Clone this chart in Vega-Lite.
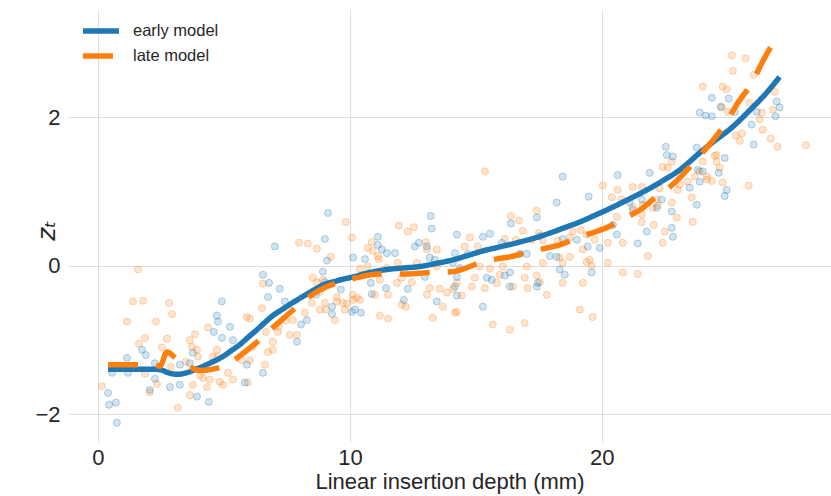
{
"$schema": "https://vega.github.io/schema/vega-lite/v6.json",
"width": 763, "height": 432,
"autosize": {"type": "none"},
"padding": {"left": 68, "top": 10, "right": 0, "bottom": 54},
"background": "white",
"config": {"view": {"stroke": null}, "font": "Liberation Sans"},
"datasets": {
"pts": [
{"series":"late","x":1.59,"y":-0.05},{"series":"late","x":1.39,"y":-0.48},{"series":"late","x":1.79,"y":-0.47},{"series":"late","x":2.82,"y":-0.50},{"series":"late","x":2.94,"y":-0.65},{"series":"late","x":1.15,"y":-0.75},{"series":"late","x":2.30,"y":-0.75},{"series":"late","x":1.87,"y":-0.97},{"series":"late","x":2.74,"y":-0.98},{"series":"late","x":1.63,"y":-1.05},{"series":"late","x":2.54,"y":-1.10},{"series":"late","x":0.16,"y":-1.62},{"series":"late","x":2.06,"y":-1.70},{"series":"late","x":2.34,"y":-1.59},{"series":"late","x":3.17,"y":-1.91},{"series":"late","x":3.65,"y":-1.74},{"series":"late","x":1.87,"y":-1.45},{"series":"late","x":3.77,"y":-1.60},{"series":"late","x":3.49,"y":-1.29},{"series":"late","x":2.90,"y":-1.36},{"series":"late","x":4.37,"y":-0.83},{"series":"late","x":3.85,"y":-0.92},{"series":"late","x":3.65,"y":-1.00},{"series":"late","x":3.93,"y":-1.13},{"series":"late","x":4.56,"y":-1.22},{"series":"late","x":4.72,"y":-1.13},{"series":"late","x":4.33,"y":-1.63},{"series":"late","x":4.44,"y":-1.53},{"series":"late","x":4.05,"y":-1.47},{"series":"late","x":4.84,"y":-1.56},{"series":"late","x":4.96,"y":-1.60},{"series":"late","x":5.36,"y":-1.53},{"series":"late","x":5.16,"y":-1.44},{"series":"late","x":5.71,"y":-1.27},{"series":"late","x":5.91,"y":-0.69},{"series":"late","x":6.03,"y":-0.71},{"series":"late","x":6.51,"y":-0.57},{"series":"late","x":6.55,"y":-0.24},{"series":"late","x":6.63,"y":-1.33},{"series":"late","x":6.03,"y":-1.27},{"series":"late","x":6.15,"y":-1.09},{"series":"late","x":6.94,"y":-1.02},{"series":"late","x":6.94,"y":-1.13},{"series":"late","x":7.14,"y":-0.89},{"series":"late","x":7.74,"y":-0.73},{"series":"late","x":7.62,"y":-0.93},{"series":"late","x":7.90,"y":-0.93},{"series":"late","x":7.98,"y":0.31},{"series":"late","x":8.33,"y":0.30},{"series":"late","x":8.69,"y":0.23},{"series":"late","x":9.25,"y":0.12},{"series":"late","x":8.53,"y":-0.16},{"series":"late","x":8.81,"y":-0.35},{"series":"late","x":9.01,"y":-0.50},{"series":"late","x":9.48,"y":-0.48},{"series":"late","x":9.72,"y":-0.50},{"series":"late","x":8.81,"y":-0.59},{"series":"late","x":9.40,"y":-0.73},{"series":"late","x":9.80,"y":-0.59},{"series":"late","x":10.12,"y":-0.46},{"series":"late","x":5.95,"y":-1.57},{"series":"late","x":4.17,"y":-1.51},{"series":"late","x":3.73,"y":-1.09},{"series":"late","x":3.97,"y":-1.22},{"series":"late","x":4.76,"y":-1.22},{"series":"late","x":6.75,"y":-1.16},{"series":"late","x":7.18,"y":-0.82},{"series":"late","x":7.46,"y":-0.74},{"series":"late","x":6.67,"y":-0.89},{"series":"late","x":8.21,"y":-0.63},{"series":"late","x":8.49,"y":-0.50},{"series":"late","x":8.69,"y":-0.22},{"series":"late","x":9.05,"y":-0.59},{"series":"late","x":8.93,"y":-0.19},{"series":"late","x":9.84,"y":0.59},{"series":"late","x":11.94,"y":0.54},{"series":"late","x":12.30,"y":0.46},{"series":"late","x":12.54,"y":0.52},{"series":"late","x":10.08,"y":0.38},{"series":"late","x":10.87,"y":0.32},{"series":"late","x":10.71,"y":0.24},{"series":"late","x":10.91,"y":0.20},{"series":"late","x":11.11,"y":0.13},{"series":"late","x":11.15,"y":0.09},{"series":"late","x":11.90,"y":0.04},{"series":"late","x":12.66,"y":0.04},{"series":"late","x":13.02,"y":0.32},{"series":"late","x":13.06,"y":0.22},{"series":"late","x":13.45,"y":0.22},{"series":"late","x":13.45,"y":-0.01},{"series":"late","x":10.40,"y":-0.04},{"series":"late","x":10.71,"y":-0.01},{"series":"late","x":11.47,"y":-0.03},{"series":"late","x":11.87,"y":-0.23},{"series":"late","x":12.06,"y":-0.16},{"series":"late","x":12.46,"y":-0.22},{"series":"late","x":13.17,"y":-0.30},{"series":"late","x":13.57,"y":-0.31},{"series":"late","x":13.06,"y":-0.39},{"series":"late","x":13.85,"y":-0.36},{"series":"late","x":14.09,"y":-0.31},{"series":"late","x":10.12,"y":-0.39},{"series":"late","x":9.48,"y":-0.42},{"series":"late","x":9.88,"y":-0.51},{"series":"late","x":10.28,"y":-0.43},{"series":"late","x":11.51,"y":-0.39},{"series":"late","x":12.06,"y":-0.52},{"series":"late","x":12.22,"y":-0.55},{"series":"late","x":11.19,"y":-0.67},{"series":"late","x":11.51,"y":-0.71},{"series":"late","x":13.29,"y":-0.70},{"series":"late","x":13.69,"y":-0.55},{"series":"late","x":14.17,"y":-0.63},{"series":"late","x":10.40,"y":-0.46},{"series":"late","x":10.99,"y":-0.39},{"series":"late","x":11.19,"y":-0.19},{"series":"late","x":15.36,"y":1.27},{"series":"late","x":17.42,"y":0.74},{"series":"late","x":16.39,"y":0.67},{"series":"late","x":16.71,"y":0.61},{"series":"late","x":14.76,"y":0.38},{"series":"late","x":14.56,"y":0.26},{"series":"late","x":15.08,"y":0.26},{"series":"late","x":16.87,"y":0.47},{"series":"late","x":17.50,"y":0.44},{"series":"late","x":17.66,"y":0.34},{"series":"late","x":18.73,"y":0.38},{"series":"late","x":18.85,"y":0.46},{"series":"late","x":19.17,"y":0.48},{"series":"late","x":16.15,"y":0.36},{"series":"late","x":16.59,"y":0.35},{"series":"late","x":17.22,"y":0.35},{"series":"late","x":18.25,"y":0.34},{"series":"late","x":17.02,"y":-0.01},{"series":"late","x":17.66,"y":0.04},{"series":"late","x":18.45,"y":0.04},{"series":"late","x":18.33,"y":0.11},{"series":"late","x":18.73,"y":0.12},{"series":"late","x":19.25,"y":0.22},{"series":"late","x":19.52,"y":0.08},{"series":"late","x":15.16,"y":-0.01},{"series":"late","x":15.56,"y":-0.04},{"series":"late","x":16.07,"y":-0.01},{"series":"late","x":15.95,"y":-0.12},{"series":"late","x":14.96,"y":-0.16},{"series":"late","x":16.94,"y":-0.16},{"series":"late","x":17.42,"y":-0.13},{"series":"late","x":17.54,"y":-0.22},{"series":"late","x":18.45,"y":-0.23},{"series":"late","x":14.25,"y":-0.23},{"series":"late","x":14.84,"y":-0.28},{"series":"late","x":15.36,"y":-0.30},{"series":"late","x":15.83,"y":-0.23},{"series":"late","x":16.47,"y":-0.28},{"series":"late","x":17.06,"y":-0.30},{"series":"late","x":17.82,"y":-0.39},{"series":"late","x":14.44,"y":-0.40},{"series":"late","x":19.25,"y":-0.23},{"series":"late","x":19.13,"y":-0.59},{"series":"late","x":14.25,"y":-0.62},{"series":"late","x":15.67,"y":-0.79},{"series":"late","x":16.35,"y":-0.86},{"series":"late","x":16.94,"y":-0.77},{"series":"late","x":24.56,"y":1.49},{"series":"late","x":24.56,"y":1.40},{"series":"late","x":24.01,"y":1.40},{"series":"late","x":22.42,"y":1.33},{"series":"late","x":22.62,"y":1.32},{"series":"late","x":22.78,"y":1.40},{"series":"late","x":23.69,"y":1.20},{"series":"late","x":23.89,"y":1.27},{"series":"late","x":24.17,"y":1.16},{"series":"late","x":23.41,"y":1.13},{"series":"late","x":23.10,"y":1.09},{"series":"late","x":23.02,"y":1.02},{"series":"late","x":22.30,"y":1.04},{"series":"late","x":21.23,"y":1.06},{"series":"late","x":21.59,"y":1.06},{"series":"late","x":20.63,"y":1.02},{"series":"late","x":20.04,"y":1.08},{"series":"late","x":20.40,"y":0.92},{"series":"late","x":20.79,"y":0.89},{"series":"late","x":22.18,"y":0.89},{"series":"late","x":22.22,"y":0.81},{"series":"late","x":22.78,"y":0.85},{"series":"late","x":23.57,"y":0.92},{"series":"late","x":23.61,"y":0.59},{"series":"late","x":22.98,"y":0.65},{"series":"late","x":22.02,"y":0.78},{"series":"late","x":21.23,"y":0.79},{"series":"late","x":21.63,"y":0.82},{"series":"late","x":21.59,"y":0.69},{"series":"late","x":21.59,"y":0.59},{"series":"late","x":22.06,"y":0.55},{"series":"late","x":22.50,"y":0.46},{"series":"late","x":22.42,"y":0.31},{"series":"late","x":21.83,"y":0.13},{"series":"late","x":20.83,"y":0.31},{"series":"late","x":20.24,"y":0.31},{"series":"late","x":19.72,"y":0.35},{"series":"late","x":19.40,"y":0.42},{"series":"late","x":19.40,"y":0.05},{"series":"late","x":19.60,"y":0.00},{"series":"late","x":20.24,"y":0.04},{"series":"late","x":20.83,"y":-0.09},{"series":"late","x":21.43,"y":-0.11},{"series":"late","x":19.64,"y":-0.69},{"series":"late","x":20.60,"y":0.66},{"series":"late","x":25.16,"y":2.83},{"series":"late","x":25.71,"y":2.79},{"series":"late","x":25.20,"y":2.62},{"series":"late","x":26.03,"y":2.57},{"series":"late","x":26.87,"y":2.34},{"series":"late","x":24.80,"y":2.41},{"series":"late","x":24.96,"y":2.37},{"series":"late","x":24.76,"y":2.13},{"series":"late","x":25.00,"y":2.07},{"series":"late","x":25.87,"y":2.19},{"series":"late","x":26.35,"y":2.06},{"series":"late","x":26.79,"y":2.10},{"series":"late","x":26.27,"y":1.97},{"series":"late","x":26.39,"y":1.83},{"series":"late","x":25.32,"y":1.75},{"series":"late","x":25.56,"y":1.78},{"series":"late","x":25.48,"y":1.68},{"series":"late","x":26.71,"y":1.71},{"series":"late","x":26.98,"y":1.60},{"series":"late","x":28.10,"y":1.62},{"series":"late","x":24.48,"y":1.48},{"series":"late","x":24.68,"y":1.32},{"series":"late","x":24.17,"y":1.20},{"series":"late","x":24.37,"y":1.14},{"series":"late","x":24.80,"y":1.12},{"series":"late","x":25.83,"y":1.08},{"series":"late","x":24.01,"y":2.41},
{"series":"early","x":0.40,"y":-1.71},{"series":"early","x":0.44,"y":-1.87},{"series":"early","x":0.71,"y":-1.84},{"series":"early","x":0.75,"y":-2.11},{"series":"early","x":1.15,"y":-1.24},{"series":"early","x":1.90,"y":-1.20},{"series":"early","x":1.75,"y":-1.13},{"series":"early","x":0.56,"y":-1.44},{"series":"early","x":1.19,"y":-1.44},{"series":"early","x":2.06,"y":-1.67},{"series":"early","x":2.26,"y":-1.52},{"series":"early","x":2.86,"y":-1.63},{"series":"early","x":3.25,"y":-1.60},{"series":"early","x":3.93,"y":-1.76},{"series":"early","x":4.40,"y":-1.83},{"series":"early","x":3.25,"y":-1.33},{"series":"early","x":3.77,"y":-1.17},{"series":"early","x":2.26,"y":-1.31},{"series":"early","x":4.92,"y":-0.48},{"series":"early","x":4.72,"y":-0.67},{"series":"early","x":4.76,"y":-0.75},{"series":"early","x":5.24,"y":-0.82},{"series":"early","x":5.36,"y":-1.00},{"series":"early","x":5.91,"y":-1.33},{"series":"early","x":5.83,"y":-1.57},{"series":"early","x":6.55,"y":-1.44},{"series":"early","x":7.02,"y":0.26},{"series":"early","x":6.55,"y":-0.12},{"series":"early","x":6.75,"y":-0.42},{"series":"early","x":6.79,"y":-0.23},{"series":"early","x":7.22,"y":-0.31},{"series":"early","x":7.42,"y":-0.48},{"series":"early","x":7.90,"y":-1.02},{"series":"early","x":8.29,"y":-0.73},{"series":"early","x":8.06,"y":-0.79},{"series":"early","x":8.93,"y":-0.08},{"series":"early","x":9.09,"y":0.07},{"series":"early","x":9.01,"y":-0.22},{"series":"early","x":9.64,"y":-0.32},{"series":"early","x":10.12,"y":0.11},{"series":"early","x":10.20,"y":-0.59},{"series":"early","x":9.01,"y":0.36},{"series":"early","x":9.13,"y":0.71},{"series":"early","x":4.60,"y":-0.89},{"series":"early","x":4.92,"y":-0.97},{"series":"early","x":8.65,"y":-0.39},{"series":"early","x":3.65,"y":-1.31},{"series":"early","x":13.21,"y":0.67},{"series":"early","x":13.25,"y":0.50},{"series":"early","x":10.60,"y":0.09},{"series":"early","x":11.11,"y":0.39},{"series":"early","x":11.11,"y":0.28},{"series":"early","x":11.27,"y":0.22},{"series":"early","x":11.47,"y":0.17},{"series":"early","x":11.79,"y":0.17},{"series":"early","x":12.58,"y":0.26},{"series":"early","x":12.74,"y":0.31},{"series":"early","x":13.06,"y":0.26},{"series":"early","x":13.17,"y":0.11},{"series":"early","x":13.37,"y":0.08},{"series":"early","x":14.25,"y":0.42},{"series":"early","x":14.17,"y":0.17},{"series":"early","x":12.98,"y":-0.15},{"series":"early","x":10.83,"y":-0.23},{"series":"early","x":10.87,"y":-0.38},{"series":"early","x":12.30,"y":-0.31},{"series":"early","x":12.14,"y":-0.46},{"series":"early","x":13.45,"y":-0.48},{"series":"early","x":14.25,"y":-0.40},{"series":"early","x":9.29,"y":-0.55},{"series":"early","x":9.29,"y":-0.65},{"series":"early","x":10.08,"y":-0.62},{"series":"early","x":10.44,"y":-0.63},{"series":"early","x":11.43,"y":-0.30},{"series":"early","x":18.45,"y":1.20},{"series":"early","x":18.21,"y":0.85},{"series":"early","x":16.39,"y":0.57},{"series":"early","x":17.42,"y":0.65},{"series":"early","x":15.56,"y":0.43},{"series":"early","x":15.28,"y":0.39},{"series":"early","x":16.03,"y":0.31},{"series":"early","x":17.54,"y":0.40},{"series":"early","x":18.45,"y":0.36},{"series":"early","x":19.01,"y":0.35},{"series":"early","x":19.44,"y":0.26},{"series":"early","x":19.48,"y":0.93},{"series":"early","x":14.68,"y":0.16},{"series":"early","x":16.75,"y":0.16},{"series":"early","x":17.02,"y":0.16},{"series":"early","x":17.94,"y":0.13},{"series":"early","x":18.21,"y":0.12},{"series":"early","x":14.09,"y":0.04},{"series":"early","x":14.37,"y":-0.03},{"series":"early","x":14.25,"y":-0.15},{"series":"early","x":15.44,"y":-0.16},{"series":"early","x":15.63,"y":-0.19},{"series":"early","x":16.15,"y":-0.13},{"series":"early","x":16.35,"y":-0.09},{"series":"early","x":16.35,"y":-0.28},{"series":"early","x":17.46,"y":-0.23},{"series":"early","x":17.42,"y":-0.28},{"series":"early","x":18.33,"y":-0.05},{"series":"early","x":18.53,"y":-0.12},{"series":"early","x":15.28,"y":-0.55},{"series":"early","x":14.17,"y":-0.28},{"series":"early","x":23.89,"y":2.06},{"series":"early","x":24.13,"y":2.02},{"series":"early","x":24.37,"y":2.01},{"series":"early","x":22.54,"y":1.60},{"series":"early","x":22.58,"y":1.49},{"series":"early","x":22.82,"y":1.47},{"series":"early","x":23.81,"y":1.29},{"series":"early","x":23.89,"y":1.13},{"series":"early","x":23.49,"y":1.05},{"series":"early","x":23.77,"y":0.82},{"series":"early","x":21.90,"y":1.25},{"series":"early","x":20.63,"y":1.22},{"series":"early","x":21.11,"y":0.85},{"series":"early","x":21.59,"y":0.89},{"series":"early","x":22.38,"y":0.89},{"series":"early","x":22.18,"y":0.78},{"series":"early","x":21.23,"y":0.75},{"series":"early","x":22.78,"y":0.73},{"series":"early","x":22.78,"y":0.51},{"series":"early","x":22.82,"y":0.39},{"series":"early","x":21.79,"y":0.46},{"series":"early","x":20.60,"y":0.42},{"series":"early","x":19.92,"y":0.24},{"series":"early","x":21.43,"y":0.30},{"series":"early","x":19.60,"y":-0.09},{"series":"early","x":20.44,"y":0.55},{"series":"early","x":24.37,"y":2.26},{"series":"early","x":25.04,"y":2.25},{"series":"early","x":24.72,"y":2.14},{"series":"early","x":25.28,"y":2.07},{"series":"early","x":26.94,"y":2.21},{"series":"early","x":27.06,"y":2.13},{"series":"early","x":26.90,"y":2.01},{"series":"early","x":26.15,"y":2.07},{"series":"early","x":25.95,"y":1.90},{"series":"early","x":26.03,"y":1.63},{"series":"early","x":24.88,"y":1.45},{"series":"early","x":24.64,"y":1.25},{"series":"early","x":24.96,"y":1.02},{"series":"early","x":24.88,"y":0.94},{"series":"early","x":24.01,"y":1.27},{"series":"early","x":23.77,"y":1.59}
],
"lines": [
{"model":"early model","x":0.4,"y":-1.39},{"model":"early model","x":1.2,"y":-1.39},{"model":"early model","x":2.2,"y":-1.39},{"model":"early model","x":2.5,"y":-1.40},{"model":"early model","x":2.8,"y":-1.44},{"model":"early model","x":3.15,"y":-1.46},{"model":"early model","x":3.5,"y":-1.44},{"model":"early model","x":3.97,"y":-1.38},{"model":"early model","x":4.5,"y":-1.30},{"model":"early model","x":4.96,"y":-1.22},{"model":"early model","x":5.3,"y":-1.14},{"model":"early model","x":5.63,"y":-1.06},{"model":"early model","x":6.0,"y":-0.95},{"model":"early model","x":6.31,"y":-0.86},{"model":"early model","x":6.6,"y":-0.77},{"model":"early model","x":6.94,"y":-0.67},{"model":"early model","x":7.3,"y":-0.59},{"model":"early model","x":7.62,"y":-0.52},{"model":"early model","x":7.95,"y":-0.45},{"model":"early model","x":8.25,"y":-0.39},{"model":"early model","x":8.6,"y":-0.32},{"model":"early model","x":8.93,"y":-0.26},{"model":"early model","x":9.5,"y":-0.20},{"model":"early model","x":10.12,"y":-0.15},{"model":"early model","x":10.8,"y":-0.09},{"model":"early model","x":11.47,"y":-0.05},{"model":"early model","x":12.1,"y":-0.03},{"model":"early model","x":12.78,"y":-0.01},{"model":"early model","x":13.4,"y":0.03},{"model":"early model","x":14.09,"y":0.08},{"model":"early model","x":14.7,"y":0.14},{"model":"early model","x":15.28,"y":0.20},{"model":"early model","x":15.9,"y":0.25},{"model":"early model","x":16.63,"y":0.31},{"model":"early model","x":17.3,"y":0.37},{"model":"early model","x":17.94,"y":0.44},{"model":"early model","x":18.5,"y":0.51},{"model":"early model","x":19.13,"y":0.59},{"model":"early model","x":19.8,"y":0.69},{"model":"early model","x":20.44,"y":0.79},{"model":"early model","x":21.1,"y":0.90},{"model":"early model","x":21.79,"y":1.02},{"model":"early model","x":22.45,"y":1.15},{"model":"early model","x":23.1,"y":1.29},{"model":"early model","x":23.89,"y":1.52},{"model":"early model","x":24.4,"y":1.66},{"model":"early model","x":25.2,"y":1.87},{"model":"early model","x":25.9,"y":2.10},{"model":"early model","x":26.55,"y":2.33},{"model":"early model","x":27.06,"y":2.54},
{"model":"late model","x":0.4,"y":-1.33},{"model":"late model","x":1.5,"y":-1.33},{"model":"late model","x":2.3,"y":-1.34},{"model":"late model","x":2.46,"y":-1.35},{"model":"late model","x":2.74,"y":-1.16},{"model":"late model","x":3.17,"y":-1.27},{"model":"late model","x":3.65,"y":-1.36},{"model":"late model","x":4.05,"y":-1.41},{"model":"late model","x":4.56,"y":-1.39},{"model":"late model","x":5.12,"y":-1.33},{"model":"late model","x":5.83,"y":-1.16},{"model":"late model","x":6.3,"y":-1.03},{"model":"late model","x":6.75,"y":-0.89},{"model":"late model","x":7.42,"y":-0.69},{"model":"late model","x":7.9,"y":-0.55},{"model":"late model","x":8.33,"y":-0.43},{"model":"late model","x":9.09,"y":-0.28},{"model":"late model","x":9.7,"y":-0.21},{"model":"late model","x":10.28,"y":-0.16},{"model":"late model","x":11.11,"y":-0.11},{"model":"late model","x":12.26,"y":-0.11},{"model":"late model","x":13.17,"y":-0.09},{"model":"late model","x":14.05,"y":-0.08},{"model":"late model","x":14.6,"y":-0.03},{"model":"late model","x":15.16,"y":0.04},{"model":"late model","x":15.8,"y":0.09},{"model":"late model","x":16.35,"y":0.12},{"model":"late model","x":17.14,"y":0.19},{"model":"late model","x":17.7,"y":0.23},{"model":"late model","x":18.33,"y":0.28},{"model":"late model","x":19.13,"y":0.39},{"model":"late model","x":19.6,"y":0.44},{"model":"late model","x":20.24,"y":0.52},{"model":"late model","x":21.03,"y":0.66},{"model":"late model","x":21.6,"y":0.77},{"model":"late model","x":22.02,"y":0.89},{"model":"late model","x":22.7,"y":1.06},{"model":"late model","x":23.2,"y":1.22},{"model":"late model","x":23.57,"y":1.36},{"model":"late model","x":24.17,"y":1.59},{"model":"late model","x":24.88,"y":1.90},{"model":"late model","x":25.36,"y":2.17},{"model":"late model","x":25.99,"y":2.48},{"model":"late model","x":26.39,"y":2.75},{"model":"late model","x":27.06,"y":3.14}
]
},
"layer": [
{
"data": {"name": "pts"},
"mark": {"type": "circle", "size": 50, "fillOpacity": 0.2, "strokeOpacity": 0.3, "strokeWidth": 1},
"encoding": {
"x": {"field": "x", "type": "quantitative", "scale": {"domain": [-1.19, 29.1], "nice": false, "zero": false},
 "axis": {"values": [0, 10, 20], "grid": true, "gridColor": "#dedede", "gridWidth": 1, "domain": false, "ticks": false, "labelFontSize": 22, "labelColor": "#262626", "labelPadding": 5, "labelFont": "Liberation Sans", "title": "Linear insertion depth (mm)", "titleFontSize": 22, "titleFontWeight": "normal", "titleColor": "#262626", "titleFont": "Liberation Sans", "titlePadding": 3}},
"y": {"field": "y", "type": "quantitative", "scale": {"domain": [-2.37, 3.44], "nice": false, "zero": false},
 "axis": {"values": [-2, 0, 2], "format": "d", "grid": true, "gridColor": "#dedede", "gridWidth": 1, "domain": false, "ticks": false, "labelFontSize": 22, "labelColor": "#262626", "labelPadding": 8, "labelFont": "Liberation Sans", "title": "zₜ", "titleFontSize": 25, "titleFontWeight": "normal", "titleFontStyle": "italic", "titleColor": "#262626", "titleFont": "DejaVu Sans", "titleX": -22, "titleY": 220, "titleAngle": -90, "titleAlign": "center", "titleBaseline": "middle"}},
"fill": {"field": "series", "type": "nominal", "scale": {"domain": ["early", "late"], "range": ["#1f77b4", "#ff7f0e"]}, "legend": null},
"stroke": {"field": "series", "type": "nominal", "scale": {"domain": ["early", "late"], "range": ["#1f77b4", "#ff7f0e"]}, "legend": null}
}
},
{
"data": {"name": "lines"},
"mark": {"type": "line", "strokeWidth": 5.5, "strokeCap": "butt", "interpolate": "monotone"},
"encoding": {
"x": {"field": "x", "type": "quantitative"},
"y": {"field": "y", "type": "quantitative"},
"color": {"field": "model", "type": "nominal", "title": null, "scale": {"domain": ["early model", "late model"], "range": ["#1f77b4", "#ff7f0e"]},
 "legend": {"orient": "none", "legendX": 12, "legendY": 12, "symbolType": "stroke", "symbolSize": 1300, "symbolStrokeWidth": 5.5, "labelFontSize": 16.5, "labelColor": "#262626", "labelFont": "Liberation Sans", "clipHeight": 18, "rowPadding": 7, "labelOffset": 11, "padding": 0}},
"strokeDash": {"field": "model", "type": "nominal", "title": null, "scale": {"domain": ["early model", "late model"], "range": [[1, 0], [30, 18]]}}
}
}
]
}
